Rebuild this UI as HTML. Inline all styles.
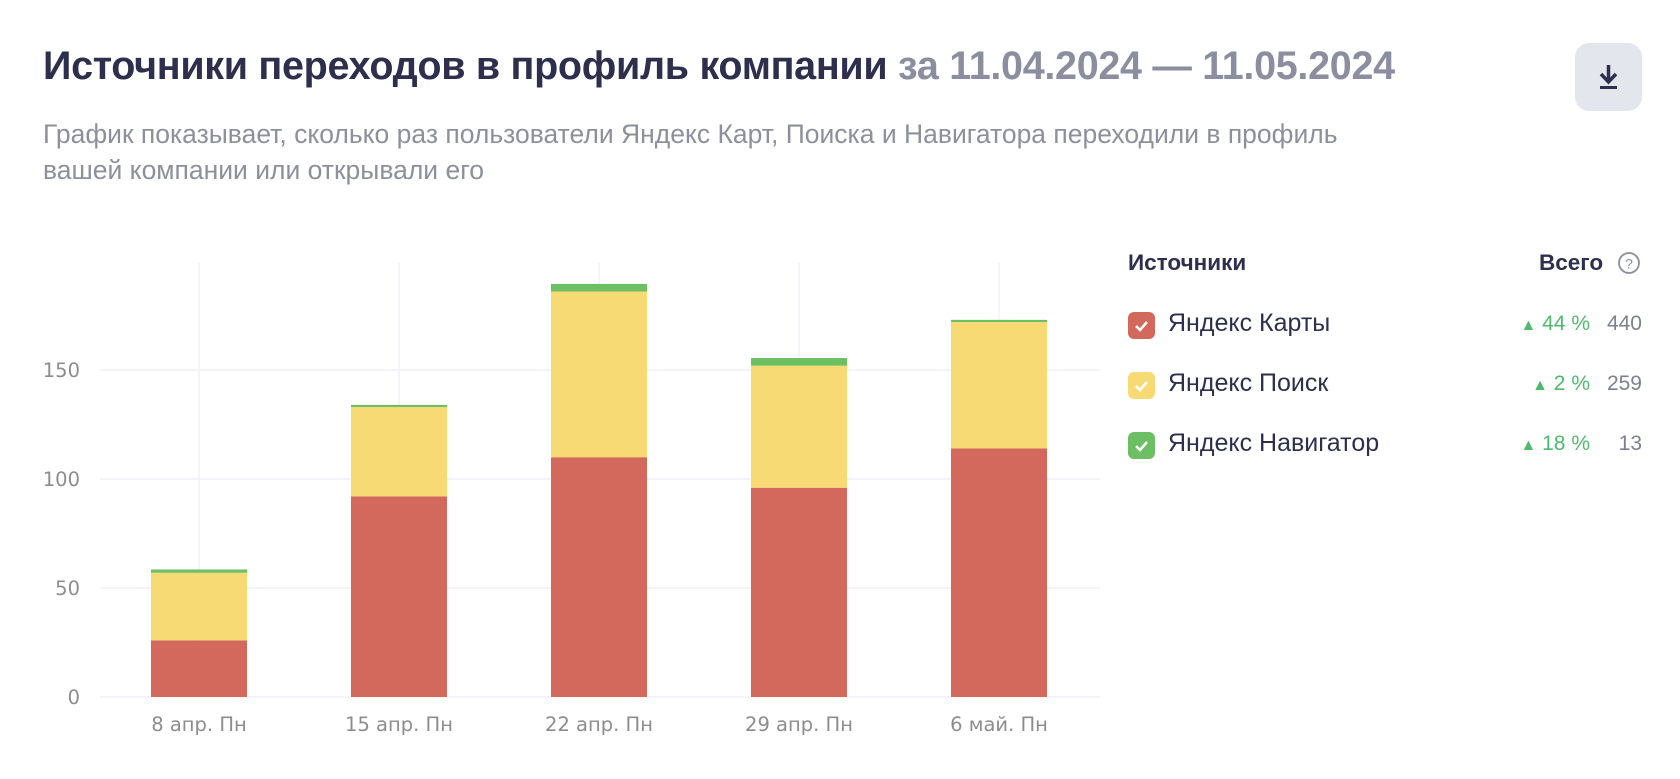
<!DOCTYPE html>
<html><head><meta charset="utf-8">
<style>
body{margin:0;width:1680px;height:779px;background:#fff;font-family:"Liberation Sans","Noto Sans CJK SC",sans-serif;overflow:hidden;position:relative}
.abs{position:absolute;white-space:nowrap}
#title{left:43px;top:44px;font-size:39.5px;font-weight:bold;color:#2d2f4d;letter-spacing:-0.3px}
#title span{color:#8a8e9e}
.sub{left:43px;font-size:26.5px;color:#8d909c}
#dl{left:1575px;top:43px;width:67px;height:68px;border-radius:14px;background:#e4e6ed}
.lh{font-size:22.5px;font-weight:bold;color:#2d2f4d}
.row{font-size:25px;color:#2d2f4d}
.cb{width:27px;height:27px;border-radius:6px}
.pct{font-size:21px;color:#4fba6d;text-align:right}
.val{font-size:21px;color:#7c8090;text-align:right}
</style></head><body>
<div class="abs" id="title">Источники переходов в профиль компании <span>за 11.04.2024 — 11.05.2024</span></div>
<div class="abs sub" style="top:119px">График показывает, сколько раз пользователи Яндекс Карт, Поиска и Навигатора переходили в профиль</div>
<div class="abs sub" style="top:155px">вашей компании или открывали его</div>
<div class="abs" id="dl">
<svg width="67" height="68"><path d="M33.5 22 V38 M26 31 L33.5 39 L41 31" stroke="#2d2f4d" stroke-width="3.5" fill="none"/><rect x="25" y="43" width="17" height="3" fill="#2d2f4d"/></svg></div>

<svg id="chart" class="abs" style="left:0;top:0" width="1120" height="779"></svg>

<div class="abs lh" style="left:1128px;top:250px">Источники</div>
<div class="abs lh" style="left:1539px;top:250px">Всего</div>
<svg class="abs" style="left:1617px;top:251px" width="24" height="24"><circle cx="12" cy="12" r="10" fill="none" stroke="#8d909c" stroke-width="1.8"/><text x="12" y="17.5" font-size="14" text-anchor="middle" fill="#8d909c" font-family="Liberation Sans">?</text></svg>
<div id="legend"></div>

<script>
const categories=["8 апр. Пн","15 апр. Пн","22 апр. Пн","29 апр. Пн","6 май. Пн"];
const maps=[26,92,110,96,114];
const search=[31,41,76,56,58];
const navigator_=[1.5,1,3.5,3.5,1];
const yTicks=[0,50,100,150];
const seriesNames=["Яндекс Карты","Яндекс Поиск","Яндекс Навигатор"];
const seriesPct=["44 %","2 %","18 %"];
const seriesTotals=["440","259","13"];
const colors=["#d2695c","#f8da75","#6cc063"];

const svg=document.getElementById('chart');
const NS="http://www.w3.org/2000/svg";
const y0=697, k=2.18;
function y(v){return y0-v*k;}
function x(i){return 199+i*200;}
function mk(t,a){const e=document.createElementNS(NS,t);for(const n in a)e.setAttribute(n,a[n]);svg.appendChild(e);return e;}
categories.forEach((c,i)=>{const l=mk('line',{x1:x(i),x2:x(i),y1:263,y2:y0,stroke:'#f0f2f8','stroke-width':1.5});

});
[0,50,100,150].forEach(v=>{const l=mk('line',{x1:100,x2:1100,y1:y(v),y2:y(v),stroke:'#eef1f7','stroke-width':1.5});

});
yTicks.forEach(v=>{const t=mk('text',{x:80,y:y(v)+7,'text-anchor':'end','font-size':19.5,fill:'#8d8d8d','font-family':'DejaVu Sans, sans-serif'});t.textContent=v;

});
const series=[maps,search,navigator_];
categories.forEach((c,i)=>{
  let base=0;
  series.forEach((s,j)=>{
    const r=mk('rect',{x:x(i)-48,width:96,y:y(base+s[i]),height:s[i]*k,fill:colors[j]});
    
    
    base+=s[i];
  });
  const t=mk('text',{x:x(i),y:731,'text-anchor':'middle','font-size':19.5,fill:'#8d8d8d','font-family':'DejaVu Sans, sans-serif'});t.textContent=c;
  
  
});
const leg=document.getElementById('legend');
const rowsY=[325,385,445];
seriesNames.forEach((n,j)=>{
  const yy=rowsY[j];
  const cb=document.createElement('div');cb.className='abs cb';cb.style.left='1128px';cb.style.top=(yy-13)+'px';cb.style.background=colors[j];
  cb.innerHTML='<svg width="27" height="27"><path d="M8 14 L12 18 L19 10" stroke="#fff" stroke-width="2.5" fill="none"/></svg>';
  
  
  leg.appendChild(cb);
  const l=document.createElement('div');l.className='abs row';l.style.left='1168px';l.style.top=(yy-16)+'px';l.textContent=n;
  
  
  leg.appendChild(l);
  const p=document.createElement('div');p.className='abs pct';p.style.right=(1680-1590)+'px';p.style.top=(yy-13)+'px';p.innerHTML='<span style="font-size:16px">▲</span> '+seriesPct[j];
  
  
  leg.appendChild(p);
  const v=document.createElement('div');v.className='abs val';v.style.right=(1680-1642)+'px';v.style.top=(yy-13)+'px';v.textContent=seriesTotals[j];
  
  
  leg.appendChild(v);
});
</script>
</body></html>
